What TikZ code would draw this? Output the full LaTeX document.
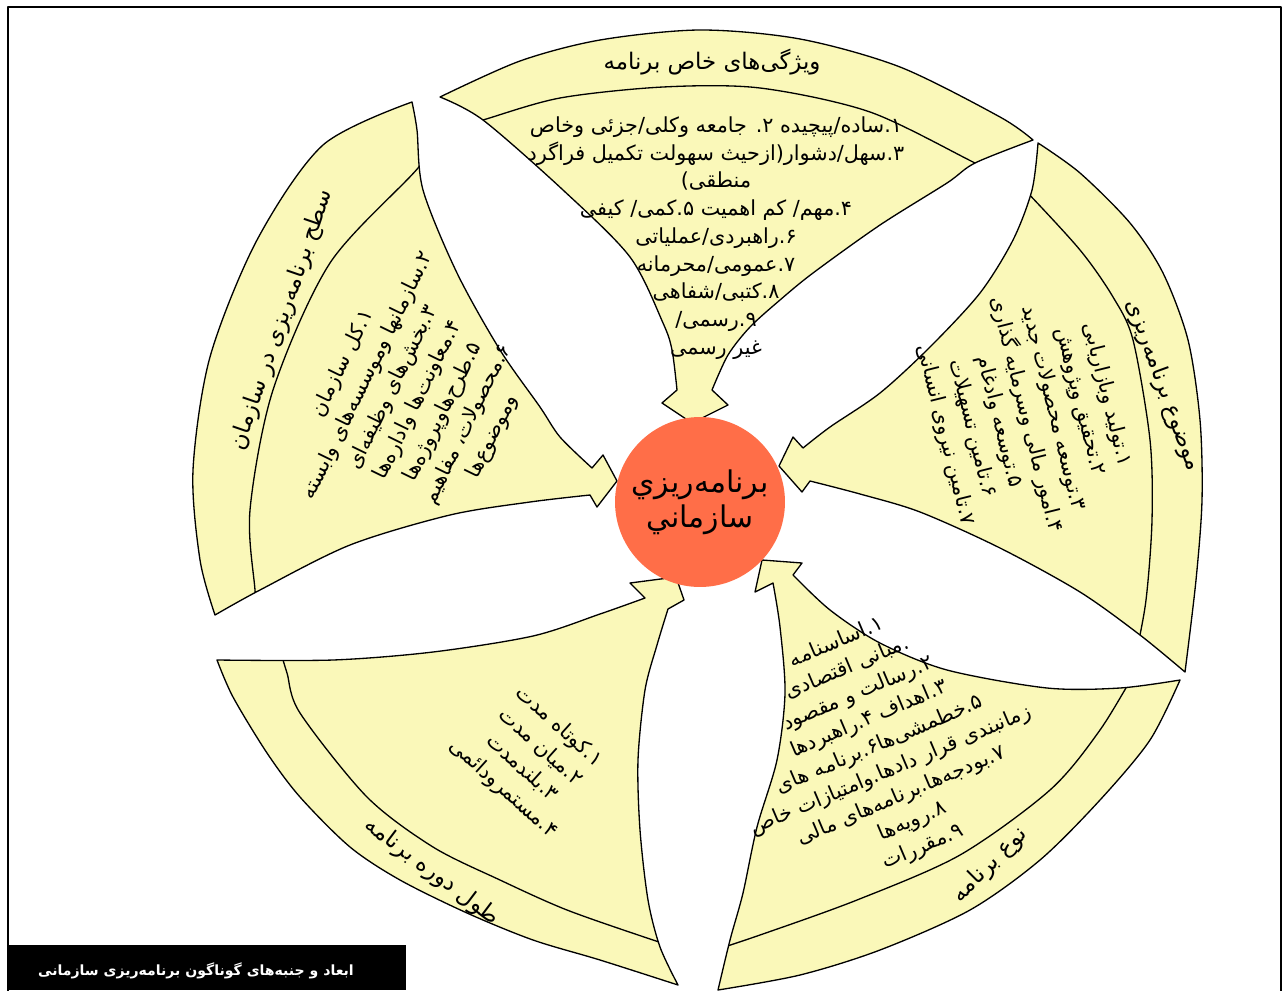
\documentclass[tikz,border=0pt]{standalone}
\usepackage{fontspec}
\newfontfamily\fa[Script=Arabic]{DejaVu Sans}
\TeXXeTstate=1
\definecolor{petalfill}{RGB}{250,248,185}
\definecolor{hubfill}{RGB}{255,110,72}
\newcommand\fline[1]{\beginR #1\endR}
\tikzset{
  petal/.style={fill=petalfill,draw=black,line width=0.75pt},
  band/.style={draw=black,line width=0.75pt},
  body/.style={font=\fa\fontsize{11.8}{15.8}\selectfont,align=center,inner sep=0pt},
  head/.style={font=\fa\fontsize{13}{16}\selectfont,inner sep=0pt},
}
% petal outlines, pixel coordinates
\newcommand\petalT{plot[smooth] coordinates {(440,97) (520,61) (600,40) (700,30) (800,39) (900,67) (1000,117) (1033,140)}
  -- plot[smooth] coordinates {(1033,140) (975,163) (947,183) (880,225) (813,273) (780,300) (750,327) (728,355) (712,390)}
  -- (728,405) -- (692,423) -- (662,403)
  -- plot[smooth] coordinates {(677,390) (672,350) (663,323) (630,257) (563,190) (483,120) (440,97)} -- cycle}
\newcommand\petalR{plot[smooth] coordinates {(1038,143) (1080,173) (1130,223) (1163,273) (1188,340) (1200,420) (1202,500) (1196,580) (1185,672)}
  -- plot[smooth] coordinates {(1185,672) (1140,635) (1080,592) (1000,548) (920,512) (860,494) (810,481)}
  -- (802,492) -- (779,466) -- (793,437)
  -- plot[smooth] coordinates {(803,448) (830,427) (880,393) (930,347) (980,293) (1013,240) (1032,190) (1038,143)} -- cycle}
\newcommand\petalL{plot[smooth] coordinates {(412,102) (323,145) (257,240) (210,357) (193,470) (200,560) (215,615)}
  -- plot[smooth] coordinates {(215,615) (260,590) (350,545) (450,515) (530,502) (590,495)}
  -- (597,507) -- (617,481) -- (603,455)
  -- plot[smooth] coordinates {(592,468) (560,437) (540,407) (500,350) (457,273) (423,190) (417,130) (412,102)} -- cycle}
\newcommand\petalBL{plot[smooth] coordinates {(217,660) (333,660) (433,652) (533,636) (600,614) (645,598)}
  -- (630,583) -- (676,577) -- (684,600)
  -- plot[smooth] coordinates {(668,609) (657,645) (645,690) (638,760) (640,830) (648,900) (660,947) (678,985)}
  -- plot[smooth] coordinates {(678,985) (600,960) (533,940) (467,913) (400,880) (350,847) (300,797) (267,753) (233,697) (217,660)} -- cycle}
\newcommand\petalBR{(773,583) -- (755,592) -- (762,560) -- (802,563)
  -- plot[smooth] coordinates {(793,575) (830,610) (880,643) (947,670) (1047,688) (1120,688) (1180,680)}
  -- plot[smooth] coordinates {(1180,680) (1150,740) (1100,800) (1040,860) (970,910) (880,950) (800,975) (718,990)}
  -- plot[smooth] coordinates {(718,990) (730,940) (743,893) (757,827) (777,760) (785,693) (780,627) (773,583)} -- cycle}
\begin{document}
\begin{tikzpicture}[x=0.02cm,y=-0.02cm,line join=round]
  \useasboundingbox (0,0) rectangle (1283,990);
  \draw[line width=1.2pt] (8,995) -- (8,7) -- (1281,7) -- (1281,995);

  % petals
  \filldraw[petal] \petalT;
  \begin{scope}
    \clip \petalT;
    \draw[band] plot[smooth] coordinates {(440,133) (483,120) (560,98) (663,87) (760,88) (870,112) (975,163) (1020,185)};
  \end{scope}
  \filldraw[petal] \petalR;
  \begin{scope}
    \clip \petalR;
    \draw[band] plot[smooth] coordinates {(1000,165) (1025,190) (1080,250) (1113,297) (1133,340) (1150,440) (1152,520) (1146,600) (1135,660) (1128,700)};
  \end{scope}
  \filldraw[petal] \petalBR;
  \begin{scope}
    \clip \petalBR;
    \draw[band] plot[smooth] coordinates {(1175,620) (1143,660) (1100,730) (1050,790) (960,855) (857,900) (760,935) (700,955)};
  \end{scope}
  \filldraw[petal] \petalBL;
  \begin{scope}
    \clip \petalBL;
    \draw[band] plot[smooth] coordinates {(280,650) (287,673) (300,713) (367,797) (433,847) (500,880) (567,910) (653,940) (700,955)};
  \end{scope}
  \filldraw[petal] \petalL;
  \begin{scope}
    \clip \petalL;
    \draw[band] plot[smooth] coordinates {(440,130) (418,168) (330,263) (273,390) (250,510) (255,590) (260,640)};
  \end{scope}

  % titles
  \node[head] (titleT) at (712,62) {\fline{ویژگی‌های خاص برنامه}};
  \node[head,rotate=-70] (titleR) at (1163,385) {\fline{موضوع برنامه‌ریزی}};
  \node[head,rotate=45] (titleBR) at (990,865) {\fline{نوع برنامه}};
  \node[head,rotate=-37] (titleBL) at (432,872) {\fline{طول دوره برنامه}};
  \node[head,rotate=71] (titleL) at (282,320) {\fline{سطح برنامه‌ریزی در سازمان}};

  % lists
  \node[body] (listT) at (716,238) {\fline{۱.ساده/پیچیده  ۲. جامعه وکلی/جزئی وخاص}\\
    \fline{۳.سهل/دشوار(ازحیث سهولت تکمیل فراگرد}\\ \fline{منطقی)}\\
    \fline{۴.مهم/ کم اهمیت  ۵.کمی/ کیفی}\\ \fline{۶.راهبردی/عملیاتی}\\
    \fline{۷.عمومی/محرمانه}\\ \fline{۸.کتبی/شفاهی}\\ \fline{۹.رسمی/}\\ \fline{غیر رسمی}};
  \node[body,rotate=-76] (listR) at (1026,415) {\fline{۱.تولید وبازاریابی}\\
    \fline{۲.تحقیق وپژوهش}\\ \fline{۳.توسعه محصولات جدید}\\
    \fline{۴.امور مالی وسرمایه گذاری}\\ \fline{۵.توسعه وادغام}\\
    \fline{۶.تامین تسهیلات}\\ \fline{۷.تامین نیروی انسانی}};
  \node[body,rotate=23] (listBR) at (880,745) {\fline{۱.اساسنامه}\\
    \fline{.مبانی اقتصادی}\\ \fline{۲.رسالت و مقصود}\\ \fline{۳.اهداف  ۴.راهبردها}\\
    \fline{۵.خطمشی‌ها۶.برنامه های}\\ \fline{زمانبندی قرار دادها.وامتیازات خاص}\\
    \fline{۷.بودجه‌ها.برنامه‌های مالی}\\ \fline{۸.رویه‌ها}\\ \fline{۹.مقررات}};
  \node[body,rotate=-42] (listBL) at (531,758) {\fline{۱.کوتاه مدت}\\
    \fline{۲.میان مدت}\\ \fline{۳.بلندمدت}\\ \fline{۴.مستمرودائمی}};
  \node[body,rotate=64] (listL) at (418,400) {\fline{۱.کل سازمان}\\
    \fline{۲.سازمانها وموسسه‌های وابسته}\\ \fline{۳.بخش‌های وظیفه‌ای}\\
    \fline{۴.معاونت‌ها واداره‌ها}\\ \fline{۵.طرح‌هاوپروژه‌ها}\\
    \fline{۶.محصولات، مفاهیم}\\ \fline{وموضوع‌ها}};

  % hub
  \node[circle,fill=hubfill,minimum size=3.4cm,align=center,
    font=\fa\fontsize{17}{20}\selectfont] (hub) at (700,502)
    {\fline{برنامه‌ريزي}\\ \fline{سازماني}};

  % caption
  \fill (8,945) rectangle (406,990);
  \node[font=\fa\bfseries\fontsize{8}{10}\selectfont,text=white] (caption) at (196,971)
    {\fline{ابعاد و جنبه‌های گوناگون برنامه‌ریزی سازمانی}};
\end{tikzpicture}
\end{document}
